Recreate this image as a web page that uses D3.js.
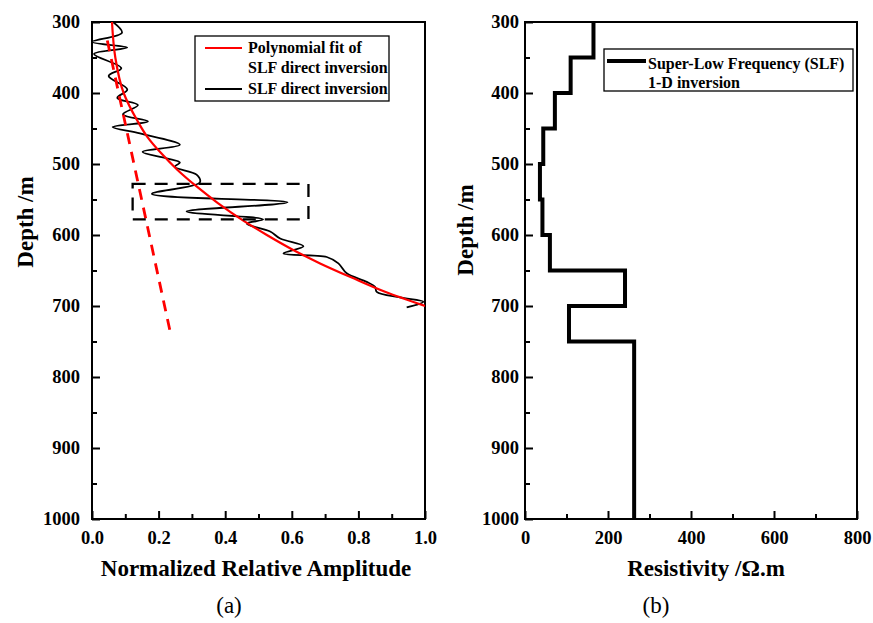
<!DOCTYPE html>
<html><head><meta charset="utf-8">
<script src="https://cdn.jsdelivr.net/npm/d3@7/dist/d3.min.js"></script>
<style>body{margin:0;background:#fff}svg{display:block}</style>
</head><body>
<svg id="chart" width="873" height="623"></svg>
<script>
// ---- Data ----
const depthTicks = [300,400,500,600,700,800,900,1000];
const ampTicks = [0.0,0.2,0.4,0.6,0.8,1.0];
const resTicks = [0,200,400,600,800];

// SLF direct inversion (black wiggle)
const slfDepth = [300,315,328,336,345,365,376,395,407,417,430,440,448,457,473,483,492,498,504,515,526,542,554,567,578,584,595,605,616,626,631,640,654,666,673,680,688,694,702];
const slfAmp   = [0.063,0.09,0.0,0.106,0.006,0.088,0.05,0.106,0.076,0.138,0.093,0.168,0.062,0.144,0.264,0.152,0.224,0.264,0.249,0.314,0.324,0.18,0.587,0.284,0.514,0.465,0.535,0.565,0.635,0.575,0.705,0.74,0.765,0.825,0.85,0.855,0.925,0.995,0.945];

// Polynomial fit (red solid)
const fitDepth = [300,350,400,438,461,485,508,532,555,579,600,620,640,660,680,700];
const fitAmp   = [0.060,0.070,0.095,0.135,0.165,0.208,0.256,0.315,0.378,0.452,0.525,0.600,0.685,0.780,0.880,1.0];

// Red dashed trend
const trendDepth = [326,739];
const trendAmp = [0.046,0.236];

// Dashed highlight box
const boxAmp = [0.122,0.65];
const boxDepth = [528,578];

// 1-D inversion steps (right panel)
const layerTop = [300,350,400,450,500,550,600,650,700,750];
const layerBottom = [350,400,450,500,550,600,650,700,750,1000];
const layerRes = [165,110,72,44,36,42,60,241,106,263];

// ---- Layout ----
const svg = d3.select('#chart');
const FONT = '"Liberation Serif","Times New Roman",serif';
const yTop = 22, yBot = 519;
const L = {x0:92, x1:425};
const R = {x0:525, x1:857};

const y = d3.scaleLinear().domain([300,1000]).range([yTop,yBot]);
const xA = d3.scaleLinear().domain([0,1]).range([L.x0,L.x1]);
const xR = d3.scaleLinear().domain([0,800]).range([R.x0,R.x1]);

const defs = svg.append('defs');
defs.append('clipPath').attr('id','clipL').append('rect')
  .attr('x',L.x0).attr('y',yTop).attr('width',L.x1-L.x0).attr('height',yBot-yTop);
defs.append('clipPath').attr('id','clipR').append('rect')
  .attr('x',R.x0).attr('y',yTop).attr('width',R.x1-R.x0).attr('height',yBot-yTop);

function panelAxes(x, x0, x1, xMajor, xMinor, fmt, yLabelGap){
  const g = svg.append('g');
  const yMajor = d3.axisRight(y).tickValues(depthTicks).tickSize(8).tickFormat('');
  const yMin = d3.axisRight(y).tickValues(d3.range(350,1000,100)).tickSize(5).tickFormat('');
  [yMajor,yMin].forEach(a=>{
    g.append('g').attr('transform',`translate(${x0},0)`).call(a).call(s=>s.select('.domain').remove())
      .selectAll('line').attr('stroke','#000').attr('stroke-width',2);
  });
  g.append('g').attr('transform',`translate(${x0-yLabelGap},0)`)
    .call(d3.axisLeft(y).tickValues(depthTicks).tickSize(0).tickPadding(0).tickFormat(d3.format('d')))
    .call(s=>s.select('.domain').remove())
    .selectAll('text').attr('font-family',FONT).attr('font-weight','bold').attr('font-size',18.5).attr('fill','#000');
  const xM = d3.axisTop(x).tickValues(xMajor).tickSize(8).tickFormat('');
  const xm = d3.axisTop(x).tickValues(xMinor).tickSize(5).tickFormat('');
  [xM,xm].forEach(a=>{
    g.append('g').attr('transform',`translate(0,${yBot})`).call(a).call(s=>s.select('.domain').remove())
      .selectAll('line').attr('stroke','#000').attr('stroke-width',2);
  });
  g.append('g').attr('transform',`translate(0,${yBot+12})`)
    .call(d3.axisBottom(x).tickValues(xMajor).tickSize(0).tickPadding(0).tickFormat(fmt))
    .call(s=>s.select('.domain').remove())
    .selectAll('text').attr('font-family',FONT).attr('font-weight','bold').attr('font-size',18.5).attr('fill','#000')
    .attr('dy','0.71em');
  g.append('rect').attr('x',x0).attr('y',yTop).attr('width',x1-x0).attr('height',yBot-yTop)
    .attr('fill','none').attr('stroke','#000').attr('stroke-width',2);
}

panelAxes(xA, L.x0, L.x1, ampTicks, d3.range(1,10,2).map(d=>d/10), d3.format('.1f'), 12);
panelAxes(xR, R.x0, R.x1, resTicks, [100,300,500,700], d3.format('d'), 6);

// ---- Left panel data ----
const gL = svg.append('g').attr('clip-path','url(#clipL)');
const slf = slfDepth.map((d,i)=>[slfAmp[i],d]);
gL.append('path').datum(slf)
  .attr('d', d3.line().x(d=>xA(d[0])).y(d=>y(d[1])).curve(d3.curveCatmullRom.alpha(0.5)))
  .attr('fill','none').attr('stroke','#000').attr('stroke-width',1.8);
const fit = fitDepth.map((d,i)=>[fitAmp[i],d]);
gL.append('path').datum(fit)
  .attr('d', d3.line().x(d=>xA(d[0])).y(d=>y(d[1])).curve(d3.curveMonotoneY))
  .attr('fill','none').attr('stroke','#ff0000').attr('stroke-width',2.2);
svg.append('line')
  .attr('x1',xA(trendAmp[0])).attr('y1',y(trendDepth[0]))
  .attr('x2',xA(trendAmp[1])).attr('y2',y(trendDepth[1]))
  .attr('stroke','#ff0000').attr('stroke-width',2.8).attr('stroke-dasharray','11,8');
svg.append('rect')
  .attr('x',xA(boxAmp[0])).attr('y',y(boxDepth[0]))
  .attr('width',xA(boxAmp[1])-xA(boxAmp[0])).attr('height',y(boxDepth[1])-y(boxDepth[0]))
  .attr('fill','none').attr('stroke','#000').attr('stroke-width',2.3).attr('stroke-dasharray','13,9');

// legend left
const lg = svg.append('g');
lg.append('rect').attr('x',195).attr('y',36).attr('width',194).attr('height',65)
  .attr('fill','#fff').attr('stroke','#000').attr('stroke-width',1.3);
lg.append('line').attr('x1',205).attr('x2',242).attr('y1',48).attr('y2',48).attr('stroke','#ff0000').attr('stroke-width',2);
lg.append('line').attr('x1',205).attr('x2',242).attr('y1',89).attr('y2',89).attr('stroke','#000').attr('stroke-width',2);
[['Polynomial fit of',53],['SLF direct inversion',73],['SLF direct inversion',94]].forEach(([t,yy])=>{
  lg.append('text').attr('x',248).attr('y',yy).text(t)
    .attr('font-family',FONT).attr('font-weight','bold').attr('font-size',16).attr('fill','#000');
});

// ---- Right panel data ----
const gR = svg.append('g').attr('clip-path','url(#clipR)');
const steps = [];
layerRes.forEach((r,i)=>{ steps.push([r,layerTop[i]]); steps.push([r,layerBottom[i]]); });
gR.append('path').datum(steps)
  .attr('d', d3.line().x(d=>xR(d[0])).y(d=>y(d[1])))
  .attr('fill','none').attr('stroke','#000').attr('stroke-width',4).attr('stroke-linejoin','miter').attr('stroke-linecap','square');

// legend right
const rg = svg.append('g');
rg.append('rect').attr('x',604).attr('y',49).attr('width',249).attr('height',42)
  .attr('fill','#fff').attr('stroke','#000').attr('stroke-width',1.3);
rg.append('line').attr('x1',607).attr('x2',646).attr('y1',61).attr('y2',61).attr('stroke','#000').attr('stroke-width',4);
[['Super-Low Frequency (SLF)',69],['1-D inversion',88]].forEach(([t,yy])=>{
  rg.append('text').attr('x',648).attr('y',yy).text(t)
    .attr('font-family',FONT).attr('font-weight','bold').attr('font-size',16).attr('fill','#000');
});

// ---- Axis titles ----
function txt(x,yy,t,size,weight,rot){
  const e = svg.append('text').attr('text-anchor','middle').attr('font-family',FONT)
    .attr('font-weight',weight).attr('font-size',size).attr('fill','#000').text(t);
  if(rot) e.attr('transform',`translate(${x},${yy}) rotate(-90)`);
  else e.attr('x',x).attr('y',yy);
}
txt(256,576,'Normalized Relative Amplitude',23,'bold');
txt(706,576,'Resistivity /Ω.m',23,'bold');
txt(33,222,'Depth /m',23,'bold',true);
txt(473,230,'Depth /m',23,'bold',true);
txt(229,613,'(a)',23,'normal');
txt(656,613,'(b)',23,'normal');
</script>
</body></html>
